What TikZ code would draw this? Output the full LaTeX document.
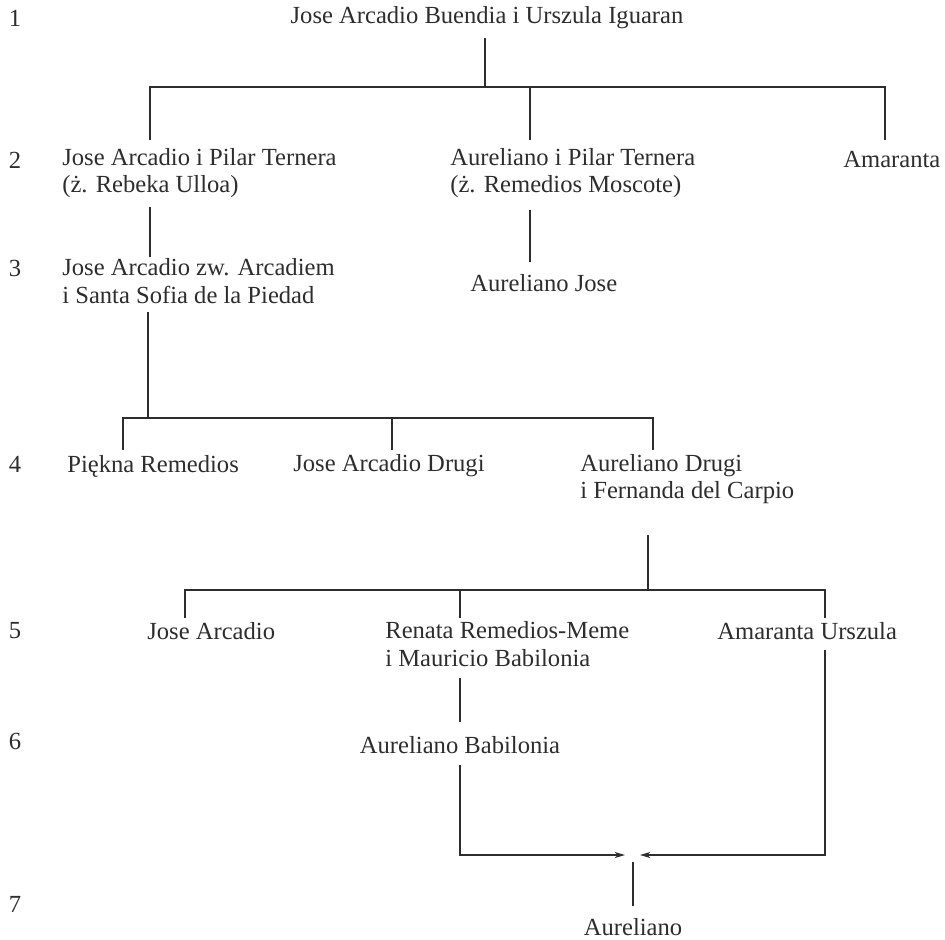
\documentclass[tikz,border=0pt]{standalone}
\usepackage{fontspec}
\setmainfont{Liberation Serif}
\usetikzlibrary{positioning}
\usetikzlibrary{arrows.meta}
\definecolor{ink}{RGB}{45,45,45}

\begin{document}
\begin{tikzpicture}[x=0.02cm, y=-0.02cm, font=\fontsize{14}{15.5}\selectfont, text=ink,
    person/.style={anchor=west, align=left, inner sep=0pt},
    gen/.style={inner sep=0pt},
    link/.style={draw=ink, line width=0.6pt},
    meet/.style={link, -{Stealth[length=6pt,width=3.5pt]}}]
    \useasboundingbox (0,0) rectangle (945,939);

    % generation numbers
    \foreach \n/\y in {1/18,2/160,3/268,4/464,5/631,6/741,7/904}
        \node[gen] (g\n) at (15,\y) {\n};

    % people
    \node[inner sep=0pt] (jab) at (487,18) {Jose Arcadio Buendia i Urszula Iguaran};
    \node[person] (ja) at (62,173) {Jose Arcadio i Pilar Ternera\\(ż. Rebeka Ulloa)};
    \node[person] (au) at (450,173) {Aureliano i Pilar Ternera\\(ż. Remedios Moscote)};
    \node[person] (am) at (843,160) {Amaranta};
    \node[person] (arc) at (62,281) {Jose Arcadio zw. Arcadiem\\i Santa Sofia de la Piedad};
    \node[person] (auj) at (470,283) {Aureliano Jose};
    \node[person] (pr) at (67,466) {Piękna Remedios};
    \node[person] (jad) at (293,466) {Jose Arcadio Drugi};
    \node[person] (aud) at (580,479) {Aureliano Drugi\\i Fernanda del Carpio};
    \node[person] (jar) at (147,631) {Jose Arcadio};
    \node[person] (meme) at (385,644) {Renata Remedios-Meme\\i Mauricio Babilonia};
    \node[person] (amu) at (717,631) {Amaranta Urszula};
    \node[inner sep=0pt] (aub) at (460,745) {Aureliano Babilonia};
    \node[inner sep=0pt] (aur) at (633,927) {Aureliano};

    % generation 1 -> 2
    \coordinate (j1) at (485,87);
    \draw[link] (485,38) -- (j1);
    \draw[link] (150,140) |- (j1) -| (885,140);
    \draw[link] (530,87) -- (530,140);

    % generation 2 -> 3
    \draw[link] (150,207) -- (150,257);
    \draw[link] (530,210) -- (530,262);

    % generation 3 -> 4
    \coordinate (j3) at (148,418);
    \draw[link] (148,312) -- (j3);
    \draw[link] (123,450) |- (j3) -| (653,450);
    \draw[link] (392,418) -- (392,450);

    % generation 4 -> 5
    \coordinate (j4) at (648,590);
    \draw[link] (648,535) -- (j4);
    \draw[link] (185,618) |- (j4) -| (825,618);
    \draw[link] (460,590) -- (460,618);

    % generation 5 -> 6 -> 7
    \draw[link] (460,678) -- (460,722);
    \coordinate (in1) at (625,855);
    \coordinate (in2) at (640,855);
    \draw[meet] (460,765) |- (in1);
    \draw[meet] (825,650) |- (in2);
    \draw[link] (633,862) -- (633,906);
\end{tikzpicture}
\end{document}
